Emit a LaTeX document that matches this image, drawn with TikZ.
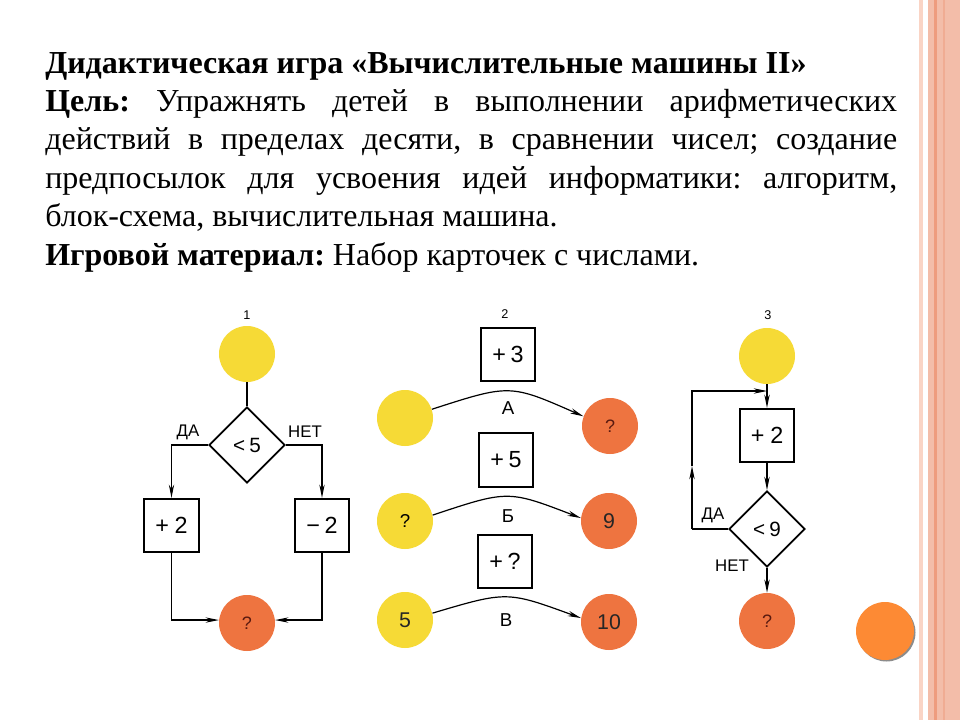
\documentclass[tikz,border=0pt]{standalone}
\usepackage{fontspec}
\setmainfont{Liberation Serif}
\newfontfamily\sansf{Liberation Sans}
\usetikzlibrary{arrows.meta,shapes.geometric}
\definecolor{yel}{HTML}{F6DA36}
\definecolor{org}{HTML}{EE7440}
\definecolor{qm}{HTML}{5A1A10}
\definecolor{deco}{HTML}{FD8A34}
\definecolor{band}{HTML}{F3BDA9}
\definecolor{bandline}{HTML}{EE9C7E}
\definecolor{pale}{HTML}{FAD4C5}
\frenchspacing
\begin{document}
\begin{tikzpicture}[x=0.75pt,y=-0.75pt,
  ycirc/.style={circle,fill=yel,minimum size=42pt,inner sep=0pt,font=\sansf\fontsize{13}{13}\selectfont},
  ocirc/.style={circle,fill=org,minimum size=42pt,inner sep=0pt,text=qm,font=\sansf\fontsize{13.5}{13.5}\selectfont},
  bignum/.style={font=\sansf\fontsize{16}{16}\selectfont,text=black!85},
  opbox/.style={draw,line width=1.4pt,minimum width=41pt,minimum height=40pt,inner sep=0pt,font=\sansf\fontsize{17.5}{17.5}\selectfont},
  cond/.style={diamond,draw,line width=1.4pt,minimum size=57pt,inner sep=0pt,font=\sansf\fontsize{15.5}{15.5}\selectfont},
  lbl/.style={font=\sansf\fontsize{12.6}{12.6}\selectfont,inner sep=0pt},
  abc/.style={font=\sansf\fontsize{14}{14}\selectfont,inner sep=0pt},
  num/.style={font=\sansf\fontsize{9.5}{9.5}\selectfont,inner sep=0pt},
  arr/.style={line width=0.9pt,-{Stealth[length=10pt,width=4pt]}},
  ln/.style={line width=0.9pt},
  para/.style={anchor=base west,inner sep=0pt,font=\fontsize{24pt}{29pt}\selectfont\frenchspacing}
]
\useasboundingbox[fill=white] (0,0) rectangle (960,720);
% right border
\fill[pale] (919,0) rectangle (923,720);
\fill[band] (928,0) rectangle (960,720);
\fill[bandline] (934,0) rectangle (937,720);
\fill[bandline!50!band] (943,0) rectangle (945,720);
% text
\node[para] (t1) at (45,73.5) {\textbf{Дидактическая игра «Вычислительные машины II»}};
\node[para] (t2) at (45,111.5) {\makebox[639pt][s]{\textbf{Цель:} Упражнять детей в выполнении арифметических}};
\node[para] (t3) at (45,150) {\makebox[639pt][s]{действий в пределах десяти, в сравнении чисел; создание}};
\node[para] (t4) at (45,188.5) {\makebox[639pt][s]{предпосылок для усвоения идей информатики: алгоритм,}};
\node[para] (t5) at (45,227) {блок-схема, вычислительная машина.};
\node[para] (t6) at (45,265.5) {\textbf{Игровой материал:} Набор карточек с числами.};
% diagram 1
\node[num] (n1) at (247,315) {1};
\node[ycirc] (y1) at (247,354) {};
\node[cond] (d1) at (247,445) {<\hspace{0.2em}5};
\node[opbox] (b1l) at (171.5,525.5) {+\hspace{0.25em}2};
\node[opbox] (b1r) at (322,525.5) {−\hspace{0.2em}2};
\node[ocirc] (o1) at (247,623) {?};
\node[lbl] (da1) at (188,432) {ДА};
\node[lbl] (net1) at (305,432) {НЕТ};
\draw[ln] (y1) -- (d1);
\draw[arr] (d1.west) -| (b1l.north);
\draw[arr] (d1.east) -| (b1r.north);
\draw[arr] (b1l.south) |- (o1.174);
\draw[arr] (b1r.south) |- (o1.6);
% diagram 2
\node[num] (n2) at (505,314) {2};
\node[opbox] (bA) at (508,354.5) {+\hspace{0.2em}3};
\node[ycirc] (yA) at (405,418) {};
\node[ocirc] (oA) at (610,426) {?};
\node[abc] (lA) at (508,408) {А};
\node[opbox] (bB) at (506,460) {+\hspace{0.2em}5};
\node[ycirc,font=\sansf\fontsize{14}{14}\selectfont] (yB) at (405,521) {?};
\node[ocirc,bignum] (oB) at (609,521) {9};
\node[abc] (lB) at (508,516) {Б};
\node[opbox] (bC) at (505,561.5) {+\hspace{0.2em}?};
\node[ycirc,bignum] (yC) at (405,620) {5};
\node[ocirc,bignum] (oC) at (609,622) {10};
\node[abc] (lC) at (506,620) {В};
\draw[arr] (yA.18) .. controls (510,384) .. (oA.160);
\draw[arr] (yB.12) .. controls (508,490) .. (oB.174);
\draw[arr] (yC.14) .. controls (507,591) .. (oC.172);
% diagram 3
\node[num] (n3) at (768,315) {3};
\node[ycirc] (y3) at (767,356) {};
\node[opbox] (b3) at (767,435.5) {+\hspace{0.25em}2};
\node[cond] (d3) at (767,529) {<\hspace{0.2em}9};
\node[ocirc] (o3) at (767,621) {?};
\node[lbl] (da3) at (713,515) {ДА};
\node[lbl] (net3) at (732,566) {НЕТ};
\coordinate (j3) at (767,391);
\coordinate (l3) at (692,529);
\coordinate (m3) at (692,466);
\draw[arr] (y3) -- (b3);
\draw[arr] (b3) -- (d3);
\draw[arr] (d3) -- (o3);
\draw[ln] (d3.west) -- (l3);
\draw[arr] (l3) -- (m3);
\draw[arr] (m3) |- (j3);
% decorative circle
\node[circle,fill=black!45,minimum size=43.5pt,inner sep=0pt] (decosh) at (886.5,632.5) {};
\node[circle,fill=deco,minimum size=43.5pt,inner sep=0pt] (decoc) at (885,631) {};
\end{tikzpicture}
\end{document}
